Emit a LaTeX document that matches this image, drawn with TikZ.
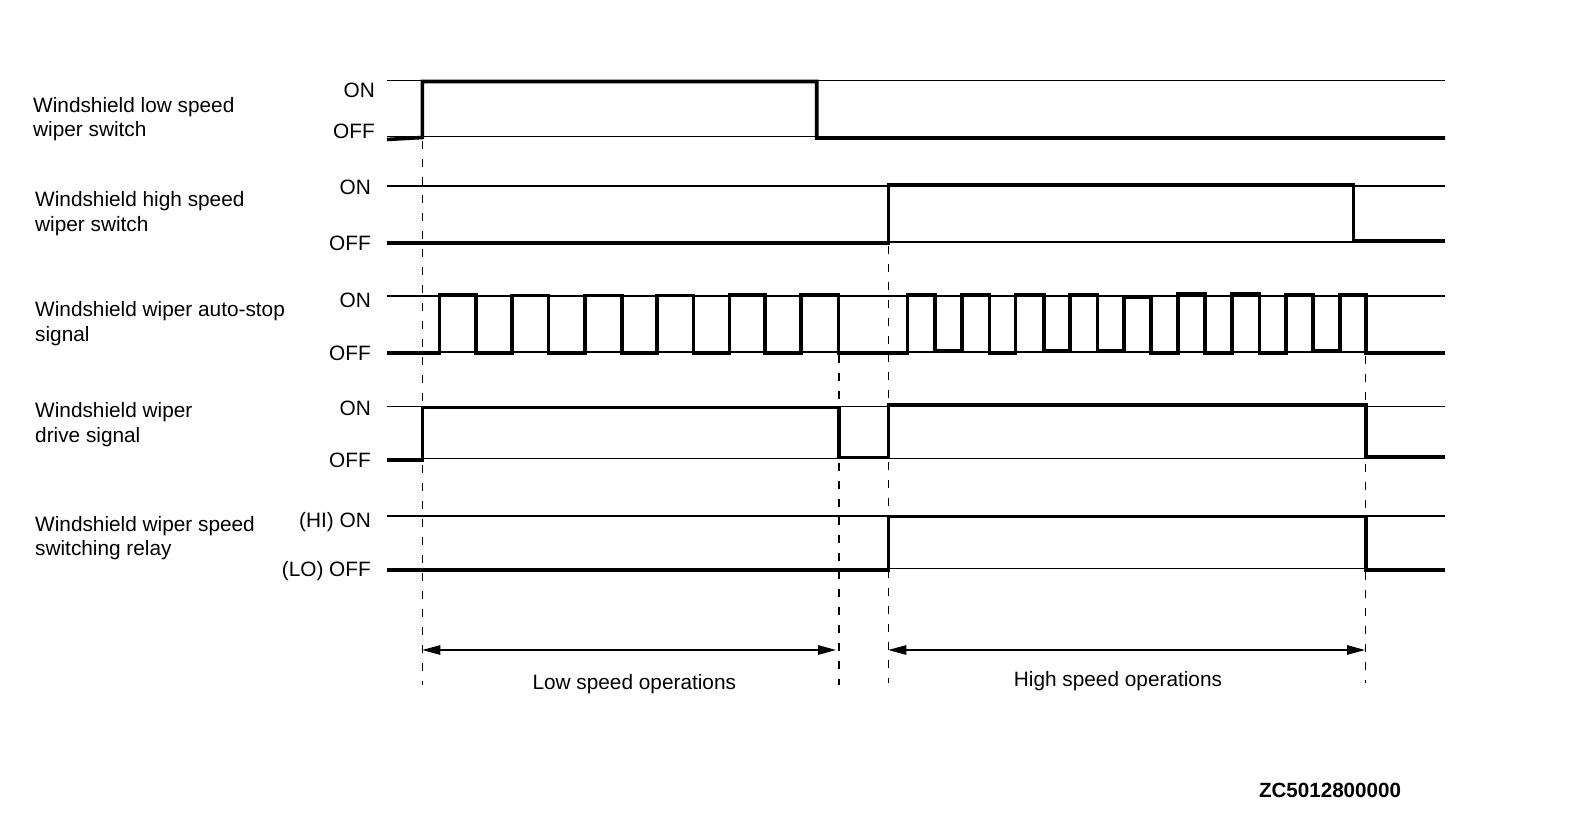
\documentclass[tikz,border=0pt]{standalone}
\usepackage{fontspec}
\setmainfont{Liberation Sans}
\usetikzlibrary{arrows.meta}
\begin{document}
\begin{tikzpicture}[x=1pt,y=-1pt,
  refline/.style={line width=1.1pt},
  sig/.style={line width=3.6pt, line join=miter},
  guide/.style={line width=1.1pt, dash pattern=on 8pt off 10pt},
  lbl/.style={font=\fontsize{20.8}{24.5}\selectfont, align=left, anchor=base west, inner sep=0pt},
  lvl/.style={font=\fontsize{20.8}{25}\selectfont, anchor=base east, inner sep=0pt},
  span/.style={line width=1.2pt, {Triangle[length=18pt,width=9.5pt]}-{Triangle[length=18pt,width=9.5pt]}},
  optxt/.style={font=\fontsize{20.8}{25}\selectfont, anchor=base, inner sep=0pt},
]
\useasboundingbox[fill=white] (0,0) rectangle (1584,813);

% signal names (anchor = baseline of the last line)
\node[lbl] (n1) at (33,136.8) {Windshield low speed\\wiper switch};
\node[lbl] (n2) at (35,231) {Windshield high speed\\wiper switch};
\node[lbl] (n3) at (35,341.1) {Windshield wiper auto-stop\\signal};
\node[lbl] (n4) at (35,442) {Windshield wiper\\drive signal};
\node[lbl] (n5) at (35,555.6) {Windshield wiper speed\\switching relay};

% level labels
\node[lvl] (on1) at (375,97.3) {ON};
\node[lvl] (off1) at (375,138.3) {OFF};
\node[lvl] (on2) at (371,194) {ON};
\node[lvl] (off2) at (371,250) {OFF};
\node[lvl] (on3) at (371,307.3) {ON};
\node[lvl] (off3) at (371,360) {OFF};
\node[lvl] (on4) at (371,415) {ON};
\node[lvl] (off4) at (371,467.3) {OFF};
\node[lvl] (on5) at (371,527.3) {(HI) ON};
\node[lvl] (off5) at (371,576) {(LO) OFF};

% reference lines
\foreach \yy in {80.5,136.5,186,242,296,352,406.5,458.3,516,568.3}
  \draw[refline] (387,\yy) -- (1445,\yy);

% guides
\draw[guide] (422.3,141) -- (422.3,685);
\draw[guide] (839,355) -- (839,685);
\draw[guide] (888.3,246) -- (888.3,683);
\draw[guide] (1365.7,356) -- (1365.7,683);

% row 1: low speed wiper switch
\draw[sig] (387,139.5) -- (422.3,137.5) -- (422.3,81.5) -- (816.7,81.5) -- (816.7,138) -- (1445,138);

% row 2: high speed wiper switch
\draw[sig] (387,243.3) -- (888.3,243.3) -- (888.3,184.7) -- (1353.3,184.7) -- (1353.3,240.7) -- (1445,240.7);

% row 3: auto-stop signal
\draw[sig] (387,353) -- (439.3,353)
  -- (439.3,294.5) -- (476,294.5) -- (476,353) -- (511.7,353)
  -- (511.7,295.5) -- (548.3,295.5) -- (548.3,353) -- (585,353)
  -- (585,295.5) -- (621.7,295.5) -- (621.7,353.5) -- (656.7,353.5)
  -- (656.7,295.5) -- (693.3,295.5) -- (693.3,353) -- (729.3,353)
  -- (729.3,295) -- (765,295) -- (765,353) -- (801,353)
  -- (801,295) -- (838.3,295) -- (838.3,353) -- (907.3,353)
  -- (907.3,295) -- (935.1,295) -- (935.1,351) -- (961.7,351)
  -- (961.7,295) -- (989.5,295) -- (989.5,353) -- (1015.4,353)
  -- (1015.4,295) -- (1043.8,295) -- (1043.8,350.5) -- (1070.1,350.5)
  -- (1070.1,295) -- (1097.5,295) -- (1097.5,350.5) -- (1123.7,350.5)
  -- (1123.7,297) -- (1151.1,297) -- (1151.1,353) -- (1178.1,353)
  -- (1178.1,294) -- (1205.1,294) -- (1205.1,353) -- (1231.8,353)
  -- (1231.8,294) -- (1259.5,294) -- (1259.5,353) -- (1286.1,353)
  -- (1286.1,295) -- (1313.1,295) -- (1313.1,351) -- (1340.1,351)
  -- (1340.1,295) -- (1366,295) -- (1366,353) -- (1445,353);

% row 4: drive signal
\draw[sig] (387,460) -- (422.3,460) -- (422.3,407.5) -- (839,407.5) -- (839,457.3) -- (888.3,457.3) -- (888.3,404.7) -- (1365.7,404.7) -- (1365.7,456.7) -- (1445,456.7);

% row 5: speed switching relay
\draw[sig] (387,570) -- (888.3,570) -- (888.3,516.5) -- (1365.7,516.5) -- (1365.7,570) -- (1445,570);

% operation spans
\coordinate (la) at (422.3,650);
\coordinate (lb) at (836,650);
\coordinate (ha) at (888.3,650);
\coordinate (hb) at (1365,650);
\draw[span] (la) -- (lb);
\draw[span] (ha) -- (hb);
\node[optxt] (lowtxt) at (634.3,689.3) {Low speed operations};
\node[optxt] (hightxt) at (1118,686) {High speed operations};

% figure id
\node[font=\fontsize{20.6}{24}\selectfont\bfseries, anchor=base, inner sep=0pt] (fid) at (1330,797.3) {ZC5012800000};
\end{tikzpicture}
\end{document}
